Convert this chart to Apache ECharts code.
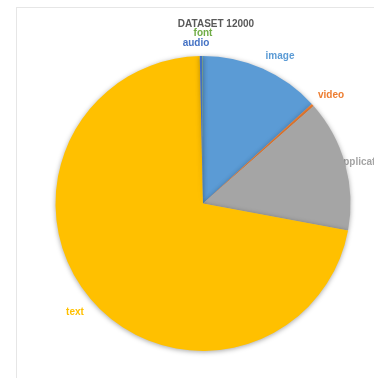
<!DOCTYPE html>
<html><head><meta charset="utf-8">
<script src="https://cdn.jsdelivr.net/npm/echarts@6/dist/echarts.min.js"></script>
<style>html,body{margin:0;padding:0;background:#fff}#c{width:374px;height:378px;position:absolute;left:0;top:0}#b{position:absolute;left:16px;top:7px;width:370px;height:380px;border:1px solid #e6e6e6;box-sizing:border-box}</style>
</head><body><div id="b"></div><div id="c"></div>
<script>
const titleText = 'DATASET 12000';
const categories = ['image', 'video', 'application', 'text', 'audio', 'font'];
const values = [1584, 36, 1730, 8608, 36, 6];
const colors = ['#5B9BD5', '#ED7D31', '#A5A5A5', '#FFC000', '#4472C4', '#70AD47'];
const labelPos = [[280, 56], [331, 95], [364, 162], [75, 312], [196, 43], [203, 33]];

const chart = echarts.init(document.getElementById('c'), null, {renderer: 'canvas'});
const center = [203, 203.5];
const radius = 147.5;
chart.setOption({
  backgroundColor: 'transparent',
  animation: false,
  title: {
    text: titleText, left: 211, top: 14, textAlign: 'center',
    textStyle: {fontFamily: 'Liberation Sans', fontSize: 10, fontWeight: 'bold', color: '#595959'}
  },
  series: [
    {
      type: 'pie', z: 1, center: center, radius: radius, startAngle: 90, clockwise: true,
      silent: true, avoidLabelOverlap: false,
      data: categories.map((c, i) => ({name: c, value: values[i],
        itemStyle: {color: 'rgba(0,0,0,0)'},
        label: {color: colors[i]}})),
      label: {show: true, position: 'inside', formatter: '{b}',
        fontFamily: 'Liberation Sans', fontSize: 10, fontWeight: 'bold'},
      labelLine: {show: false},
      labelLayout: function (p) {
        const pos = labelPos[p.dataIndex];
        return {x: pos[0], y: pos[1], align: 'center', verticalAlign: 'middle', hideOverlap: false};
      }
    },
    {
      type: 'pie', z: 2, center: center, radius: radius, startAngle: 90, clockwise: true,
      silent: true,
      data: categories.map((c, i) => ({name: c, value: values[i], itemStyle: {color: colors[i]}})),
      itemStyle: {shadowBlur: 5, shadowColor: 'rgba(0,0,0,0.35)', shadowOffsetX: 0, shadowOffsetY: 1},
      label: {show: false},
      labelLine: {show: false}
    }
  ]
});
</script>
</body></html>
